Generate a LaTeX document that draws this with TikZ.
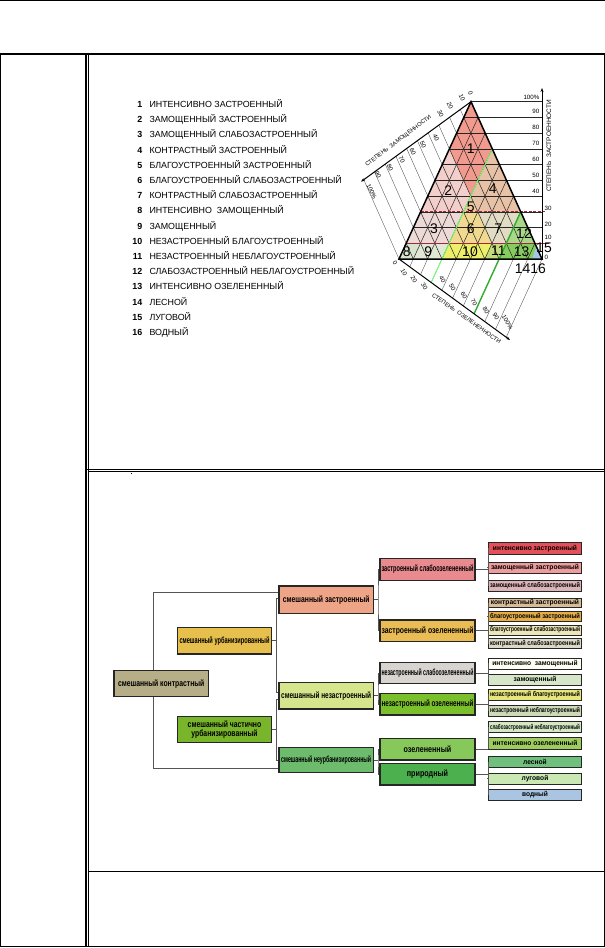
\documentclass[tikz,border=0pt]{standalone}
\usepackage{fontspec}
\setmainfont{Liberation Sans}
\usepackage{graphicx}
\usetikzlibrary{calc,arrows.meta}
\newcommand\fitto[2]{\sbox0{#2}\ifdim\wd0>#1\relax\edef\fitfac{\fpeval{(#1)/(\the\wd0)}}\scalebox{\fitfac}[1]{\usebox0}\else\usebox0\fi}
\newcommand\midtxt[1]{\fitto{90bp}{\scalebox{0.76}[1]{#1}}}
\newcommand\lthree[1]{\fitto{92bp}{\scalebox{0.8}[1]{#1}}}
\newcommand\leaf[1]{\fitto{90bp}{\scalebox{0.95}[1]{#1}}}
% triangle region colours
\definecolor{rA}{HTML}{F29A8E}
\definecolor{rB}{HTML}{F3CFCB}
\definecolor{rC}{HTML}{EDD9D6}
\definecolor{rD}{HTML}{E8C2A6}
\definecolor{rE}{HTML}{EEC99C}
\definecolor{rF}{HTML}{F1DA90}
\definecolor{rG}{HTML}{E3DCC4}
\definecolor{rH}{HTML}{D9E4CE}
\definecolor{rI}{HTML}{E2E8D6}
\definecolor{rJ}{HTML}{EDEE6A}
\definecolor{rK}{HTML}{C4DC7C}
\definecolor{rL}{HTML}{A8D88A}
\definecolor{rM}{HTML}{86CB5E}
\definecolor{rP}{HTML}{A4C6E4}
% tree colours
\definecolor{tRoot}{HTML}{B5AE86}
\definecolor{tUrb}{HTML}{E6BF4C}
\definecolor{tPart}{HTML}{79B52B}
\definecolor{tZas}{HTML}{EEA486}
\definecolor{tNez}{HTML}{D6E68C}
\definecolor{tNeu}{HTML}{6DBB6C}
\definecolor{tZsl}{HTML}{E88A8E}
\definecolor{tZoz}{HTML}{E9BC55}
\definecolor{tNsl}{HTML}{D8D5D0}
\definecolor{tNoz}{HTML}{7CBF2C}
\definecolor{tOz}{HTML}{86C85A}
\definecolor{tPri}{HTML}{4DB04F}
\definecolor{lA}{HTML}{E4505A}
\definecolor{lB}{HTML}{EE9C9C}
\definecolor{lC}{HTML}{DBB4B8}
\definecolor{lD}{HTML}{D8BC98}
\definecolor{lE}{HTML}{E5AE48}
\definecolor{lF}{HTML}{EDE6B8}
\definecolor{lG}{HTML}{DCD9C6}
\definecolor{lH}{HTML}{FFFFF4}
\definecolor{lI}{HTML}{D6E6C8}
\definecolor{lJ}{HTML}{E6E67C}
\definecolor{lK}{HTML}{CCDAB8}
\definecolor{lL}{HTML}{D4E8C4}
\definecolor{lM}{HTML}{9ECC5E}
\definecolor{lN}{HTML}{6FC07C}
\definecolor{lO}{HTML}{CAE8B4}
\definecolor{lP}{HTML}{A9C5E2}
\definecolor{conn}{HTML}{555555}
\definecolor{redline}{HTML}{A0283C}
\begin{document}
\begin{tikzpicture}[x=1bp,y=-1bp,
  frame/.style={line width=1.2bp,black},
  grid/.style={line width=0.5bp,black!85},
  ext/.style={line width=0.35bp,black!70},
  axisline/.style={line width=1bp,black,-{Stealth[length=4pt,width=3pt]}},
  leg/.style={font=\fontsize{8.9}{10}\selectfont,inner sep=0},
  legnum/.style={font=\fontsize{8.9}{10}\selectfont\bfseries,inner sep=0},
  rnum/.style={font=\fontsize{14}{14}\selectfont,inner sep=0},
  tick/.style={font=\fontsize{6.2}{7}\selectfont,inner sep=0},
  atitle/.style={font=\fontsize{5.8}{7}\selectfont,inner sep=0},
  tbox/.style={draw=black!85,line width=1.3bp,inner sep=0,align=center,text=black},
  midbox/.style={tbox,font=\fontsize{9}{10}\selectfont\bfseries,minimum width=94.3bp},
  l3box/.style={tbox,font=\fontsize{9}{10}\selectfont\bfseries,minimum width=95bp,line width=1.5bp},
  leafbox/.style={tbox,font=\fontsize{7}{8}\selectfont\bfseries,minimum width=93.4bp,line width=0.9bp},
  cl/.style={line width=0.8bp,conn}]
\useasboundingbox (0,0) rectangle (605,948);
\fill[white] (0,0) rectangle (605,948);
% ---------- page frame ----------
\draw[frame] (0,0.8) -- (605,0.8);
\draw[frame] (0.8,54) rectangle (604.2,946.8);
\draw[frame] (86,54) -- (86,946.8);
\draw[frame] (88.6,54) -- (88.6,946.8);
\draw[frame] (86,469.5) -- (604.2,469.5);
\draw[frame] (88.6,471.8) -- (604.2,471.8);
\draw[line width=1.4bp] (88.6,871.5) -- (604.2,871.5);
\fill (130.6,472.6) rectangle (132,474);
% ---------- legend ----------
\foreach \n/\t [count=\i from 0] in {1/ИНТЕНСИВНО ЗАСТРОЕННЫЙ,2/ЗАМОЩЕННЫЙ ЗАСТРОЕННЫЙ,3/ЗАМОЩЕННЫЙ СЛАБОЗАСТРОЕННЫЙ,4/КОНТРАСТНЫЙ ЗАСТРОЕННЫЙ,5/БЛАГОУСТРОЕННЫЙ ЗАСТРОЕННЫЙ,6/БЛАГОУСТРОЕННЫЙ СЛАБОЗАСТРОЕННЫЙ,7/КОНТРАСТНЫЙ СЛАБОЗАСТРОЕННЫЙ,8/ИНТЕНСИВНО\ \ ЗАМОЩЕННЫЙ,9/ЗАМОЩЕННЫЙ,10/НЕЗАСТРОЕННЫЙ БЛАГОУСТРОЕННЫЙ,11/НЕЗАСТРОЕННЫЙ НЕБЛАГОУСТРОЕННЫЙ,12/СЛАБОЗАСТРОЕННЫЙ НЕБЛАГОУСТРОЕННЫЙ,13/ИНТЕНСИВНО ОЗЕЛЕНЕННЫЙ,14/ЛЕСНОЙ,15/ЛУГОВОЙ,16/ВОДНЫЙ}{
  \node[legnum,anchor=base east] (ln\i) at (142.5,{107.5+15.2*\i}) {\n};
  \node[leg,anchor=base west] (lt\i) at (149.3,{107.5+15.2*\i}) {\t};
}
% ---------- triangle ----------
\coordinate (A) at (471,101.7);
\coordinate (L) at (399,259);
\coordinate (R) at (542,259);
% regions
\fill[rA] (A) -- (barycentric cs:A=.7,L=.3,R=0) -- (barycentric cs:A=.4,L=.3,R=.3) -- (barycentric cs:A=.7,L=0,R=.3) -- cycle;
\fill[rB] (barycentric cs:A=.7,L=.3,R=0) -- (barycentric cs:A=.3,L=.7,R=0) -- (barycentric cs:A=.3,L=.4,R=.3) -- (barycentric cs:A=.4,L=.3,R=.3) -- cycle;
\fill[rD] (barycentric cs:A=.7,L=0,R=.3) -- (barycentric cs:A=.4,L=.3,R=.3) -- (barycentric cs:A=.3,L=.3,R=.4) -- (barycentric cs:A=.3,L=0,R=.7) -- cycle;
\fill[rE] (barycentric cs:A=.4,L=.3,R=.3) -- (barycentric cs:A=.3,L=.4,R=.3) -- (barycentric cs:A=.3,L=.3,R=.4) -- cycle;
\fill[rC] (barycentric cs:A=.3,L=.7,R=0) -- (barycentric cs:A=.1,L=.9,R=0) -- (barycentric cs:A=.1,L=.6,R=.3) -- (barycentric cs:A=.3,L=.4,R=.3) -- cycle;
\fill[rF] (barycentric cs:A=.3,L=.4,R=.3) -- (barycentric cs:A=.1,L=.6,R=.3) -- (barycentric cs:A=.1,L=.3,R=.6) -- (barycentric cs:A=.3,L=.3,R=.4) -- cycle;
\fill[rG] (barycentric cs:A=.3,L=.3,R=.4) -- (barycentric cs:A=.1,L=.3,R=.6) -- (barycentric cs:A=.1,L=.2,R=.7) -- (barycentric cs:A=.3,L=0,R=.7) -- cycle;
\fill[rL] (barycentric cs:A=.3,L=0,R=.7) -- (barycentric cs:A=.1,L=.2,R=.7) -- (barycentric cs:A=.1,L=0,R=.9) -- cycle;
\fill[rH] (barycentric cs:A=.1,L=.9,R=0) -- (L) -- (barycentric cs:A=0,L=.9,R=.1) -- (barycentric cs:A=.1,L=.8,R=.1) -- cycle;
\fill[rI] (barycentric cs:A=.1,L=.8,R=.1) -- (barycentric cs:A=0,L=.9,R=.1) -- (barycentric cs:A=0,L=.7,R=.3) -- (barycentric cs:A=.1,L=.6,R=.3) -- cycle;
\fill[rJ] (barycentric cs:A=.1,L=.6,R=.3) -- (barycentric cs:A=0,L=.7,R=.3) -- (barycentric cs:A=0,L=.4,R=.6) -- (barycentric cs:A=.1,L=.3,R=.6) -- cycle;
\fill[rK] (barycentric cs:A=.1,L=.3,R=.6) -- (barycentric cs:A=0,L=.4,R=.6) -- (barycentric cs:A=0,L=.3,R=.7) -- (barycentric cs:A=.1,L=.2,R=.7) -- cycle;
\fill[rM] (barycentric cs:A=.1,L=.2,R=.7) -- (barycentric cs:A=0,L=.3,R=.7) -- (R) -- (barycentric cs:A=.1,L=0,R=.9) -- cycle;
\fill[rP] (barycentric cs:A=0,L=.07,R=.93) -- (R) -- (barycentric cs:A=.08,L=0,R=.92) -- cycle;
% grid: horizontal (built-up)
\foreach \i in {1,...,10}{
  \draw[grid] ({399+7.2*\i},{259-15.73*\i}) -- (542,{259-15.73*\i});
}
% grid: paved lines (parallel to right edge) + extensions to left axis
\foreach \j in {1,...,9}{
  \draw[grid] ({471-7.2*\j},{101.7+15.73*\j}) -- ({542-14.3*\j},259);
}
\foreach \j in {1,...,10}{
  \draw[ext] ({471-7.2*\j},{101.7+15.73*\j}) -- ({471-10.725*\j},{101.7+7.8*\j});
}
% grid: green lines (parallel to left edge) + extensions to bottom axis
\foreach \g in {1,...,9}{
  \draw[grid] ({471+7.1*\g},{101.7+15.73*\g}) -- ({399+14.3*\g},259);
}
\foreach \g in {1,...,10}{
  \draw[ext] ({399+14.3*\g},259) -- ({399+10.72*\g},{259+7.82*\g});
}
% class boundaries
\draw[redline,line width=0.9bp,dash pattern=on 3bp off 1.5bp] (420.6,211.8) -- (545,211.8);
\draw[redline,line width=1.6bp] (406.2,243.3) -- (549,243.3);
\draw[green!55!white,line width=0.9bp] (431.2,282.5) -- (492.3,148.9);
\draw[green!60!black!80,line width=1.4bp] (474.1,313.8) -- (520.7,211.8);
% triangle edges
\draw[line width=1.5bp,line join=miter] (A) -- (L) -- (R) -- cycle;
% axes
\draw[axisline] (A) -- (361,181.7);
\draw[axisline] (L) -- (510,340);
\draw[axisline] (542,259) -- (542,88);
% right axis labels
\foreach \t/\yy [count=\k] in {100\%/97.7,90/111.7,80/127.7,70/143.3,60/159,50/175,40/191}{
  \node[tick,anchor=east] (zr\k) at (539.5,\yy) {\t};
}
\foreach \t/\yy [count=\k] in {30/208.5,20/224,10/237.3,0/257.3}{
  \node[tick,anchor=west] (zl\k) at (544.5,\yy) {\t};
}
\node[atitle,font=\fontsize{6.5}{7}\selectfont,rotate=90] (ztitle) at (549,146) {СТЕПЕНЬ\ \ ЗАСТРОЕННОСТИ};
% left axis labels
\foreach \t/\xx/\yy [count=\k] in {0/470.5/93.5,10/462/97.5,20/450/105.5,30/440.5/113.5,40/436/137.7,50/423/145,60/412.7/151.7,70/401.7/160,80/390/167.7,90/378/175,100\%/371.7/191.7}{
  \node[tick,rotate=-65] (pl\k) at (\xx,\yy) {\t};
}
\node[atitle,rotate=37] (ptitle) at (398.5,141) {СТЕПЕНЬ\ \ ЗАМОЩЕННОСТИ};
% bottom axis labels
\foreach \t/\xx/\yy [count=\k] in {0/395/263,10/404/272,20/414/279,30/424.5/286.5,40/442.5/279,50/452.5/287,60/464/295.5,70/474/302,80/486/310.5,90/496/316,100\%/507.5/322}{
  \node[tick,rotate=-60] (gl\k) at (\xx,\yy) {\t};
}
\node[atitle,rotate=-35] (gtitle) at (466.5,318.5) {СТЕПЕНЬ\ \ ОЗЕЛЕНЕННОСТИ};
% region numbers
\foreach \t/\xx/\yy [count=\k] in {1/470.7/148.3,2/448.3/191,4/492.7/188.3,5/470.7/206.7,3/434/228.3,6/470.7/228.3,7/498.3/228.3,12/524/234,8/406.7/251.7,9/428.3/251.7,10/470/251.7,11/498.3/250.7,13/521.7/251.7,15/544/247.5,14/522.6/268.3,16/538.2/268.3}{
  \node[rnum] (rn\k) at (\xx,\yy) {\t};
}
% ---------- tree ----------
\node[midbox,fill=tRoot,minimum height=26bp] (root) at (161.2,683.7) {\midtxt{смешанный контрастный}};
\node[midbox,fill=tUrb,minimum height=26.3bp] (urb) at (224.5,640.8) {\midtxt{смешанный урбанизированный}};
\node[midbox,fill=tPart,minimum height=26bp] (part) at (224.5,729.7) {\midtxt{смешанный частично}\\[-1.5bp]\midtxt{урбанизированный}};
\node[midbox,fill=tZas,minimum height=27.3bp] (zas) at (326.2,599.7) {\midtxt{смешанный застроенный}};
\node[midbox,fill=tNez,minimum height=26.3bp] (nez) at (326.2,695.8) {\midtxt{смешанный незастроенный}};
\node[midbox,fill=tNeu,minimum height=25.4bp] (neu) at (326.2,760) {\midtxt{смешанный неурбанизированный}};
\node[l3box,fill=tZsl,minimum height=22.4bp] (zsl) at (427.5,569.5) {\lthree{застроенный слабоозелененный}};
\node[l3box,fill=tZoz,minimum height=21.7bp] (zoz) at (427.5,630.8) {\lthree{застроенный озелененный}};
\node[l3box,fill=tNsl,minimum height=20.6bp] (nsl) at (427.5,673) {\lthree{незастроенный слабоозелененный}};
\node[l3box,fill=tNoz,minimum height=21.7bp] (noz) at (427.5,704.2) {\lthree{незастроенный озелененный}};
\node[l3box,fill=tOz,minimum height=21.7bp] (oz) at (427.5,749.2) {\lthree{озелененный}};
\node[l3box,fill=tPri,minimum height=21.7bp] (pri) at (427.5,774.2) {\lthree{природный}};
\node[leafbox,fill=lA,minimum height=11.3bp] (fA) at (535,548.3) {\leaf{интенсивно застроенный}};
\node[leafbox,fill=lB,minimum height=11bp] (fB) at (535,567.8) {\leaf{замощенный застроенный}};
\node[leafbox,fill=lC,minimum height=11.7bp] (fC) at (535,585.8) {\leaf{замощенный слабозастроенный}};
\node[leafbox,fill=lD,minimum height=9.4bp] (fD) at (535,603) {\leaf{контрастный застроенный}};
\node[leafbox,fill=lE,minimum height=10bp] (fE) at (535,616.7) {\leaf{благоустроенный застроенный}};
\node[leafbox,fill=lF,minimum height=10bp] (fF) at (535,630) {\leaf{благоустроенный слабозастроенный}};
\node[leafbox,fill=lG,minimum height=10bp] (fG) at (535,643.3) {\leaf{контрастный слабозастроенный}};
\node[leafbox,fill=lH,minimum height=11bp] (fH) at (535,663.8) {\leaf{интенсивно\ \ замощенный}};
\node[leafbox,fill=lI,minimum height=11bp] (fI) at (535,679.5) {\leaf{замощенный}};
\node[leafbox,fill=lJ,minimum height=10.7bp] (fJ) at (535,694.7) {\leaf{незастроенный благоустроенный}};
\node[leafbox,fill=lK,minimum height=11bp] (fK) at (535,710.5) {\leaf{незастроенный неблагоустроенный}};
\node[leafbox,fill=lL,minimum height=11bp] (fL) at (535,727.2) {\leaf{слабозастроенный неблагоустроенный}};
\node[leafbox,fill=lM,minimum height=12bp] (fM) at (535,743.3) {\leaf{интенсивно озелененный}};
\node[leafbox,fill=lN,minimum height=10.6bp] (fN) at (535,762) {\leaf{лесной}};
\node[leafbox,fill=lO,minimum height=10.7bp] (fO) at (535,778.7) {\leaf{луговой}};
\node[leafbox,fill=lP,minimum height=11bp] (fP) at (535,794.5) {\leaf{водный}};
% connectors
\draw[cl] ($(zas.west)+(0,-7.7)$) -| ($(root.north)+(-8,0)$);
\draw[cl] ($(neu.west)+(0,8.7)$) -| ($(root.south)+(-8,0)$);
\draw[cl] ($(zas.west)+(0,-1.7)$) -| ($(urb.east)+(4,0)$) |- ($(nez.west)+(0,-3.8)$);
\draw[cl] (urb.east) -- ++(4,0);
\draw[cl] ($(nez.west)+(0,3.2)$) -| ($(part.east)+(4,0)$) |- (neu.west);
\draw[cl] (part.east) -- ++(4,0);
\draw[cl] (zsl.west) -| ($(zas.east)+(4,0)$) |- (zoz.west);
\draw[cl] (zas.east) -- ++(4,0);
\draw[cl] (nsl.west) -| ($(nez.east)+(4,0)$) |- (noz.west);
\draw[cl] (nez.east) -- ++(4,0);
\draw[cl] (oz.west) -| ($(neu.east)+(4,0)$) |- (pri.west);
\draw[cl] (neu.east) -- ++(4,0);
\draw[cl] (zsl.east) -- ++(12.3,0);
\draw[cl] (fA.west) -| ($(zsl.east)+(12.3,0)$) |- (fC.west);
\draw[cl] (fB.west) -- ++(-1.2,0);
\draw[cl] (zoz.east) -- ++(12.3,0);
\draw[cl] (fD.west) -| ($(zoz.east)+(12.3,0)$) |- (fG.west);
\draw[cl] (fE.west) -- ++(-1.2,0);
\draw[cl] (fF.west) -- ++(-1.2,0);
\draw[cl] (nsl.east) -- ++(12.3,0);
\draw[cl] (fH.west) -| ($(nsl.east)+(12.3,0)$) |- (fI.west);
\draw[cl] (noz.east) -- ++(12.3,0);
\draw[cl] (fJ.west) -| ($(noz.east)+(12.3,0)$) |- (fK.west);
\draw[cl] (oz.east) -- ++(12.3,0);
\draw[cl] (fL.west) -| ($(oz.east)+(12.3,0)$) |- (fM.west);
\draw[cl] (pri.east) -- ++(12.3,0);
\draw[cl] (fN.west) -| ($(pri.east)+(12.3,0)$) |- (fP.west);
\draw[cl] (fO.west) -- ++(-1.2,0);
\end{tikzpicture}
\end{document}
